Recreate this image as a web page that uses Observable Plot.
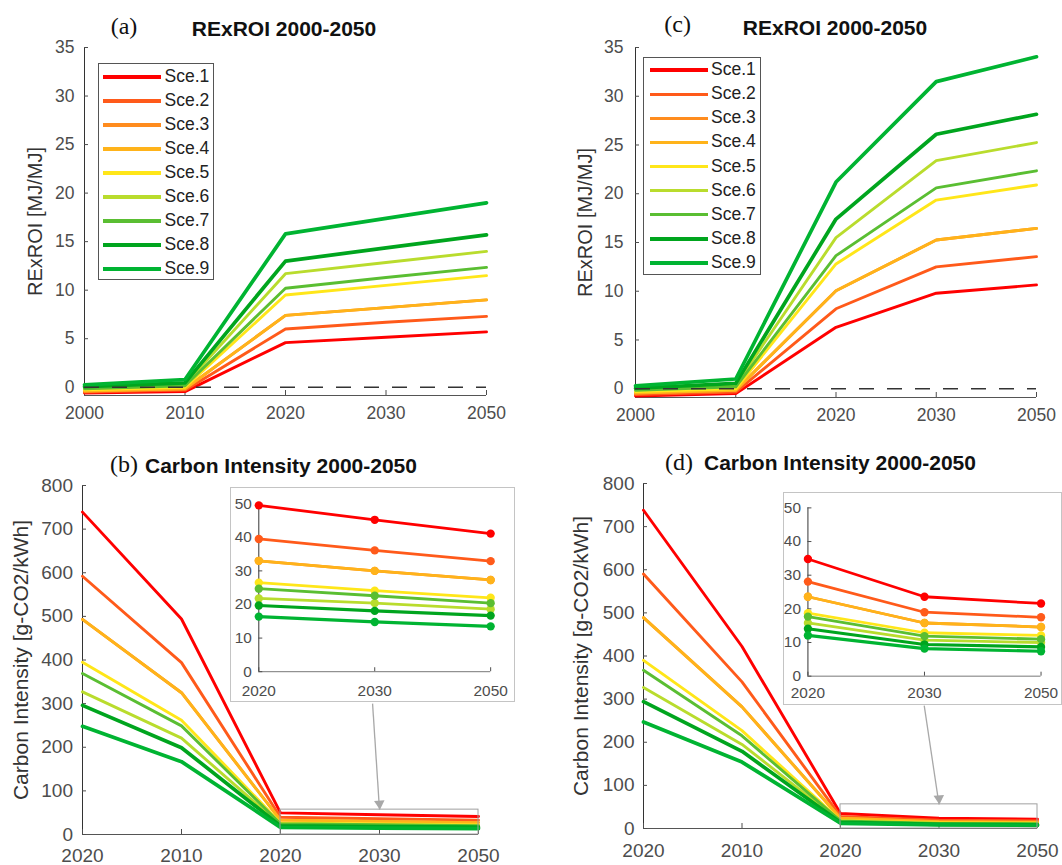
<!DOCTYPE html>
<html><head><meta charset="utf-8">
<script src="https://cdn.jsdelivr.net/npm/d3@7"></script>
<script src="https://cdn.jsdelivr.net/npm/@observablehq/plot@0.6"></script>
<style>
html,body{margin:0;padding:0;background:#fff;}
#fig{position:relative;width:1062px;height:865px;overflow:hidden;font-family:"Liberation Sans",Arial,sans-serif;}
.panel{position:absolute;}
.panel svg{overflow:visible;}
.ttl{position:absolute;transform:translate(-50%,-50%);white-space:nowrap;line-height:1;font-weight:bold;font-size:21px;color:#111;}
.tag{position:absolute;transform:translate(-50%,-50%);white-space:nowrap;line-height:1;font-family:"Liberation Serif","Times New Roman",serif;font-size:24px;color:#111;}
.legend{position:absolute;border:1px solid #555;background:#fff;box-sizing:border-box;}
.legend .ln{position:absolute;}
.legend .tx{position:absolute;font-size:17.5px;line-height:1;transform:translateY(-50%);color:#222;white-space:nowrap;}
.inset{position:absolute;border:1px solid #c4c4c4;background:#fff;box-sizing:border-box;}
.inset svg{position:absolute;left:-1px;top:-1px;}
</style></head><body><div id="fig"></div><script>
// ---------------- data ----------------
const scenarios = ["Sce.1","Sce.2","Sce.3","Sce.4","Sce.5","Sce.6","Sce.7","Sce.8","Sce.9"];
const topYears = ["2000","2010","2020","2030","2050"];
const bottomYears = ["2020","2010","2020","2030","2050"];
const insetYears = ["2020","2030","2050"];

// RExROI [MJ/MJ], panel (a)
const rexroiA = [
  [-0.6, -0.45, 4.6, 5.15, 5.7],
  [-0.5, -0.3, 6.0, 6.7, 7.3],
  [-0.4, -0.15, 7.4, 8.2, 9.0],
  [-0.4, -0.15, 7.4, 8.2, 9.0],
  [-0.25, 0.0, 9.5, 10.5, 11.5],
  [-0.05, 0.3, 11.7, 12.85, 14.0],
  [-0.15, 0.15, 10.2, 11.3, 12.35],
  [0.05, 0.45, 13.0, 14.35, 15.7],
  [0.25, 0.8, 15.8, 17.4, 19.0]
];
// RExROI [MJ/MJ], panel (c)
const rexroiC = [
  [-0.75, -0.5, 6.3, 9.8, 10.65],
  [-0.6, -0.35, 8.2, 12.5, 13.55],
  [-0.45, -0.15, 10.05, 15.25, 16.45],
  [-0.45, -0.15, 10.05, 15.25, 16.45],
  [-0.3, 0.0, 12.8, 19.35, 20.9],
  [-0.05, 0.4, 15.5, 23.4, 25.25],
  [-0.15, 0.2, 13.65, 20.6, 22.35],
  [0.05, 0.55, 17.4, 26.1, 28.15],
  [0.3, 1.0, 21.2, 31.5, 34.05]
];
// Carbon intensity [g-CO2/kWh], panel (b)
const carbonB = [
  [739, 494, 49.5, 45.2, 41.1],
  [592, 394, 39.5, 36.1, 32.9],
  [493, 325, 33.0, 30.0, 27.3],
  [493, 325, 33.0, 30.0, 27.3],
  [395, 262, 26.5, 24.1, 22.0],
  [327, 221, 21.8, 20.4, 18.6],
  [369, 249, 24.7, 22.6, 20.4],
  [296, 199, 19.7, 18.1, 16.7],
  [248, 167, 16.4, 14.8, 13.5]
];
// Carbon intensity [g-CO2/kWh], panel (d)
const carbonD = [
  [738, 422, 34.8, 23.6, 21.6],
  [590, 340, 28.1, 19.0, 17.5],
  [489, 282, 23.6, 15.8, 14.6],
  [489, 282, 23.6, 15.8, 14.6],
  [390, 227, 18.7, 12.9, 12.1],
  [327, 195, 15.8, 10.7, 10.0],
  [367, 215, 17.7, 11.9, 11.0],
  [294, 179, 14.1, 9.4, 8.7],
  [247, 154, 12.1, 8.2, 7.4]
];
const rexroiTicks = [0, 5, 10, 15, 20, 25, 30, 35];
const carbonTicks = [0, 100, 200, 300, 400, 500, 600, 700, 800];
const insetTicks = [0, 10, 20, 30, 40, 50];
const zeroLine = [0];
const zoomBoxB = [{x1: 2, x2: 4, y1: 0, y2: 57}];
const zoomBoxD = [{x1: 2, x2: 4, y1: 0, y2: 56}];
const pointerB = [{x1: 2.93, y1: 300, x2: 3.0, y2: 57}];
const pointerD = [{x1: 2.85, y1: 285, x2: 3.0, y2: 56}];

// ---------------- styles ----------------
const colors = ["#ff0000","#ff5a1a","#ff8c1e","#ffb31a","#ffe619","#b9dc2d","#5abe32","#00a51e","#00b432"];
const widths = [2.9,2.9,2.9,2.9,2.9,2.9,2.9,3.7,3.7];
const FONT = '"Liberation Sans", Arial, sans-serif';
const fig = document.getElementById("fig");

function seriesRows(values, from = 0) {
  return values.map((row) => row.slice(from).map((v, j) => ({x: j, y: v})));
}

function place(el, left, top, cls = "panel") {
  const d = document.createElement("div");
  d.className = cls;
  d.style.left = left + "px";
  d.style.top = top + "px";
  d.appendChild(el);
  fig.appendChild(d);
  return d;
}

function mainPanel(o) {
  const rows = seriesRows(o.values);
  return Plot.plot({
    width: o.width, height: o.height,
    marginLeft: o.m[0], marginRight: o.m[1], marginTop: o.m[2], marginBottom: o.m[3],
    x: {domain: [0, o.xLabels.length - 1]},
    y: {domain: o.yDomain},
    style: {fontFamily: FONT, background: "transparent", overflow: "visible"},
    marks: [
      Plot.ruleY([o.yDomain[0]], {stroke: "#555", strokeWidth: 1}),
      Plot.ruleX([0], {stroke: "#333", strokeWidth: 1}),
      Plot.axisX({ticks: o.xLabels.map((_, i) => i), tickFormat: (i) => o.xLabels[i], tickSize: -5, tickPadding: o.xPad, fontSize: o.tickFont, color: "#4d4d4d", label: null}),
      Plot.axisY({ticks: o.yTicks, tickSize: -4, tickPadding: o.yPad, fontSize: o.tickFont, color: "#4d4d4d", label: null}),
      Plot.text([o.yLabel], {text: (d) => d, frameAnchor: "left", rotate: -90, lineAnchor: "top", textAnchor: "middle", dx: o.labelDx, fontSize: o.labelFont, fill: "#333"}),
      ...rows.map((r, i) => Plot.line(r, {x: "x", y: "y", stroke: colors[i], strokeWidth: widths[i], strokeLinejoin: "round"})),
      ...(o.extras || [])
    ]
  });
}

function insetPanel(o) {
  const rows = seriesRows(o.values, 2);
  const marks = [
    Plot.ruleY([0], {stroke: "#777"}),
    Plot.ruleX([0], {stroke: "#333"}),
    Plot.axisX({ticks: [0, 1, 2], tickFormat: (i) => insetYears[i], tickSize: -4, tickPadding: o.xPad, fontSize: 15.5, color: "#4d4d4d", label: null}),
    Plot.axisY({ticks: insetTicks, tickSize: -4, tickPadding: 11, fontSize: 15.5, color: "#4d4d4d", label: null})
  ];
  rows.forEach((r, i) => {
    marks.push(Plot.line(r, {x: "x", y: "y", stroke: colors[i], strokeWidth: i >= 7 ? 3.2 : 2.8}));
    marks.push(Plot.dot(r, {x: "x", y: "y", r: 4.2, fill: colors[i]}));
  });
  return Plot.plot({
    width: o.width, height: o.height,
    marginLeft: o.m[0], marginRight: o.m[1], marginTop: o.m[2], marginBottom: o.m[3],
    x: {domain: [0, 2]},
    y: {domain: [0, 50]},
    style: {fontFamily: FONT, background: "transparent", overflow: "visible"},
    marks
  });
}

function zoomMarks(box, ptr) {
  return [
    Plot.rect(box, {x1: "x1", x2: "x2", y1: "y1", y2: "y2", fill: "none", stroke: "#a0a0a0", strokeWidth: 1}),
    Plot.link(ptr, {x1: "x1", y1: "y1", x2: "x2", y2: "y2", stroke: "#a8a8a8", strokeWidth: 1.3}),
    Plot.dot(ptr, {x: "x2", y: "y2", symbol: "triangle", r: 3.9, fill: "#a8a8a8", stroke: "none", rotate: 176, dy: -6})
  ];
}

function legend(left, top, w, h, first, step, lineLeft, lineW, textLeft) {
  const box = document.createElement("div");
  box.className = "legend";
  Object.assign(box.style, {left: left + "px", top: top + "px", width: w + "px", height: h + "px"});
  scenarios.forEach((s, i) => {
    const cy = first + step * i;
    const ln = document.createElement("div");
    ln.className = "ln";
    const lw = i >= 7 ? 3.8 : 3.2;
    Object.assign(ln.style, {left: lineLeft + "px", top: (cy - lw / 2) + "px", width: lineW + "px", height: lw + "px", background: colors[i]});
    const tx = document.createElement("div");
    tx.className = "tx";
    tx.textContent = s;
    Object.assign(tx.style, {left: textLeft + "px", top: cy + "px"});
    box.appendChild(ln); box.appendChild(tx);
  });
  fig.appendChild(box);
}

function label(cls, text, x, y) {
  const d = document.createElement("div");
  d.className = cls;
  d.textContent = text;
  d.style.left = x + "px";
  d.style.top = y + "px";
  fig.appendChild(d);
}

// ---------------- panels ----------------
place(mainPanel({
  values: rexroiA, xLabels: topYears, yDomain: [-0.85, 35], yTicks: rexroiTicks, yLabel: "RExROI [MJ/MJ]",
  width: 530, height: 430, m: [84, 44, 47, 35], xPad: 16, yPad: 14, labelDx: -57, tickFont: 17.5, labelFont: 20,
  extras: [Plot.ruleY(zeroLine, {stroke: "#333", strokeWidth: 1.3, strokeDasharray: "15,13"})]
}), 0, 0);

place(mainPanel({
  values: rexroiC, xLabels: topYears, yDomain: [-0.9, 35], yTicks: rexroiTicks, yLabel: "RExROI [MJ/MJ]",
  width: 532, height: 430, m: [105, 26, 47, 33], xPad: 16, yPad: 16, labelDx: -58, tickFont: 17.5, labelFont: 20,
  extras: [Plot.ruleY(zeroLine, {stroke: "#333", strokeWidth: 1.3, strokeDasharray: "15,13"})]
}), 530, 0);

place(mainPanel({
  values: carbonB, xLabels: bottomYears, yDomain: [0, 800], yTicks: carbonTicks, yLabel: "Carbon Intensity [g-CO2/kWh]",
  width: 530, height: 435, m: [82, 52, 55, 31], xPad: 19, yPad: 13.5, labelDx: -69, tickFont: 19, labelFont: 21,
  extras: zoomMarks(zoomBoxB, pointerB)
}), 0, 430);

place(mainPanel({
  values: carbonD, xLabels: bottomYears, yDomain: [0, 800], yTicks: carbonTicks, yLabel: "Carbon Intensity [g-CO2/kWh]",
  width: 532, height: 435, m: [113, 25, 53, 37], xPad: 20, yPad: 13, labelDx: -70, tickFont: 19, labelFont: 21,
  extras: zoomMarks(zoomBoxD, pointerD)
}), 530, 430);

// insets
const inB = place(insetPanel({values: carbonB, width: 285, height: 215, m: [28.5, 23, 16.3, 29.5], xPad: 17}), 230, 487, "inset");
Object.assign(inB.style, {width: "285px", height: "215px"});
const inD = place(insetPanel({values: carbonD, width: 279, height: 213, m: [24.6, 19.6, 15.5, 28], xPad: 15}), 783, 492, "inset");
Object.assign(inD.style, {width: "279px", height: "213px"});

// legends
legend(97.5, 63, 116, 217, 13, 24, 4, 58, 66);
legend(643, 57, 118, 218, 12, 24.15, 6, 57.5, 67);

// titles
label("tag", "(a)", 124, 26);
label("ttl", "RExROI 2000-2050", 284, 28);
label("tag", "(c)", 677.6, 24);
label("ttl", "RExROI 2000-2050", 835, 27);
label("tag", "(b)", 124, 464);
label("ttl", "Carbon Intensity 2000-2050", 281, 465);
label("tag", "(d)", 679, 462);
label("ttl", "Carbon Intensity 2000-2050", 840, 462);
</script></body></html>
